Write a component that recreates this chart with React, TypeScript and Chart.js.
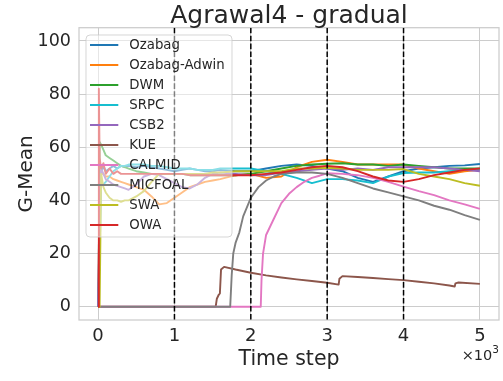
import React, { useEffect, useRef } from "react";
import { Chart, registerables } from "chart.js";

Chart.register(...registerables);

// Sampling positions shared by the seven ensemble series
const STEPS = [
  0, 10, 20, 40, 70, 100, 150, 200, 250, 300, 350, 400, 500, 600, 700, 800, 900, 1000,
  1100, 1200, 1300, 1400, 1500, 1600, 1800, 2000, 2200, 2400, 2600, 2800, 3000, 3200,
  3400, 3600, 3800, 4000, 4200, 4400, 4600, 4800, 5000,
];

const OZABAG = [
  0, 0, 30, 50, 53, 51, 52, 53, 52, 53, 52.5, 53, 52.5, 53, 52.5, 52, 51.5, 51, 51.5, 52,
  51.5, 51, 51, 51.5, 51, 51, 52, 53, 53.5, 53, 52, 51, 48.5, 47, 49, 51, 52, 52.5, 53,
  53.2, 53.7,
];
const OZABAG_ADWIN = [
  0, 0, 40, 50, 50, 49, 49, 48, 47.5, 47, 46.5, 46, 45, 44, 41.5, 38.5, 39, 41, 43, 45,
  46, 47, 47.5, 48, 49.5, 50, 48.5, 49, 52.5, 54.5, 55.3, 54.5, 53.5, 53.5, 53.5, 53.5,
  52, 51, 50, 51, 51.5,
];
const DWM = [
  0, 20, 62, 61, 59, 57, 56, 55, 54, 53, 52.5, 52, 51, 50.5, 50, 50, 50, 50, 50, 49.5,
  49.5, 49.5, 49.5, 49.5, 49.5, 50, 51, 52, 53, 53.5, 53.8, 54, 53.5, 53.5, 53, 53.5, 53,
  52.5, 52, 52, 52,
];
const SRPC = [
  0, 0, 20, 46, 46, 47, 49, 51, 52, 53, 53, 53.5, 53.5, 53.5, 53, 53, 52.5, 52, 52, 52,
  51.5, 51.5, 51.5, 52, 52, 52, 51, 50, 48.5, 46.5, 48, 48, 47.5, 46.5, 49, 50.3, 50.5,
  50.5, 51, 51.5, 51.5,
];
const CSB2 = [
  0, 0, 45, 52, 50, 48, 47, 46, 45.5, 45, 44.5, 44, 46, 49, 50, 49.5, 48, 46.5, 45, 44.5,
  46, 48.5, 50, 50.5, 50, 49.5, 49.5, 50.5, 51, 51.5, 52, 51.5, 52, 51.5, 52.5, 52.5,
  52.5, 52.5, 52, 51.5, 51,
];
const SWA = [
  0, 0, 0, 50, 45, 43, 41, 40, 40, 39.5, 40, 40, 41.5, 43.5, 47, 50, 50, 50, 50, 50, 50,
  50, 50.5, 50.5, 51, 51, 51, 51, 52, 52, 52.3, 52, 51.5, 51.5, 51.5, 51.8, 50, 49, 48,
  46.5, 45.5,
];
const OWA = [
  0, 82, 56, 52, 54, 50, 52, 50, 51, 50, 50, 50, 50, 50, 50, 50, 50, 50, 50, 49.5, 49.5,
  49.5, 49.5, 49.5, 49.5, 49.5, 50, 50.5, 51.5, 52.5, 53, 52.5, 51, 49, 47.5, 47, 48,
  49.5, 50.5, 51.5, 52,
];

// Series that stay at zero until they start learning
const KUE_STEPS = [
  0, 1540, 1555, 1580, 1595, 1610, 1650, 1800, 2000, 2200, 2400, 2600, 2800, 3000, 3150,
  3160, 3200, 3400, 3600, 3800, 4000, 4200, 4400, 4600, 4670, 4680, 4720, 5000,
];
const KUE = [
  0, 0, 3, 4.5, 5, 14, 15, 14, 12.8, 11.8, 11, 10.3, 9.7, 9, 8.3, 10.5, 11.5, 11.2, 10.8,
  10.4, 10, 9.4, 8.8, 8, 7.6, 8.8, 9.1, 8.6,
];
const CALMID_STEPS = [
  0, 2130, 2140, 2160, 2200, 2300, 2400, 2500, 2600, 2700, 2800, 2900, 3000, 3200, 3400,
  3600, 3800, 4000, 4200, 4400, 4600, 4800, 5000,
];
const CALMID = [
  0, 0, 10, 20, 27, 33, 39, 42.5, 45, 47, 48.5, 49.3, 50.2, 50, 49.5, 48.5, 47, 45.2,
  43.5, 42, 40, 38.5, 36.8,
];
const MICFOAL_STEPS = [
  0, 1730, 1750, 1770, 1800, 1850, 1900, 2000, 2100, 2200, 2300, 2400, 2600, 2800, 3000,
  3200, 3400, 3600, 3800, 4000, 4200, 4400, 4600, 4800, 5000,
];
const MICFOAL = [
  0, 0, 12, 20, 24, 28, 34, 41, 45, 47.5, 49, 50, 50.5, 50.5, 50, 48.5, 46.5, 44.5, 43,
  41.5, 40, 38, 36.5, 34.5, 32.7,
];

const SERIES_NAMES = [
  "Ozabag", "Ozabag-Adwin", "DWM", "SRPC", "CSB2", "KUE", "CALMID", "MICFOAL", "SWA", "OWA",
];
const SERIES_COLORS = [
  "#1f77b4", "#ff7f0e", "#2ca02c", "#17becf", "#9467bd",
  "#8c564b", "#e377c2", "#7f7f7f", "#bcbd22", "#d62728",
];
const SERIES_STEPS = [
  STEPS, STEPS, STEPS, STEPS, STEPS, KUE_STEPS, CALMID_STEPS, MICFOAL_STEPS, STEPS, STEPS,
];
const SERIES_VALUES = [
  OZABAG, OZABAG_ADWIN, DWM, SRPC, CSB2, KUE, CALMID, MICFOAL, SWA, OWA,
];

const DRIFT_STEPS = [1000, 2000, 3000, 4000];
const X_TICKS = [0, 1000, 2000, 3000, 4000, 5000];
const Y_TICKS = [0, 20, 40, 60, 80, 100];

const TITLE = "Agrawal4 - gradual";
const X_LABEL = "Time step";
const Y_LABEL = "G-Mean";

const FONT = "'DejaVu Sans', 'Liberation Sans', sans-serif";
const TEXT = "#262626";
const GRID = "#cccccc";

const decorations = {
  id: "decorations",
  beforeDatasetsDraw(chart: any) {
    const { ctx, chartArea: a } = chart;
    ctx.save();
    ctx.strokeStyle = GRID;
    ctx.lineWidth = 1.25;
    ctx.strokeRect(a.left, a.top, a.right - a.left, a.bottom - a.top);
    ctx.restore();
  },
  afterDatasetsDraw(chart: any) {
    const { ctx, chartArea: a, scales } = chart;
    ctx.save();
    ctx.beginPath();
    ctx.rect(a.left, a.top, a.right - a.left, a.bottom - a.top);
    ctx.clip();
    ctx.strokeStyle = "#000000";
    ctx.lineWidth = 1.5;
    ctx.setLineDash([5.55, 2.4]);
    for (const s of DRIFT_STEPS) {
      const px = scales.x.getPixelForValue(s);
      ctx.beginPath();
      ctx.moveTo(px, a.top);
      ctx.lineTo(px, a.bottom);
      ctx.stroke();
    }
    ctx.restore();
  },
  afterDraw(chart: any) {
    const { ctx, chartArea: a } = chart;
    const cx = (a.left + a.right) / 2;
    ctx.save();
    ctx.fillStyle = TEXT;

    // title
    ctx.font = `25px ${FONT}`;
    ctx.textAlign = "center";
    ctx.textBaseline = "alphabetic";
    ctx.fillText(TITLE, cx, 22.5);

    // x axis label
    ctx.font = `20.5px ${FONT}`;
    ctx.fillText(X_LABEL, cx, 365);

    // y axis label
    ctx.save();
    ctx.translate(31.5, (a.top + a.bottom) / 2);
    ctx.rotate(-Math.PI / 2);
    ctx.font = `20px ${FONT}`;
    ctx.fillText(Y_LABEL, 0, 0);
    ctx.restore();

    // axis multiplier
    ctx.textAlign = "left";
    ctx.font = `10.5px ${FONT}`;
    const supW = ctx.measureText("3").width;
    ctx.font = `14.5px ${FONT}`;
    const baseW = ctx.measureText("×10").width;
    const startX = a.right - baseW - supW;
    ctx.fillText("×10", startX, 359.5);
    ctx.font = `10.5px ${FONT}`;
    ctx.fillText("3", startX + baseW, 353);

    // legend
    const lx = 86, ly = 35, lw = 146, lh = 202;
    ctx.beginPath();
    ctx.roundRect(lx, ly, lw, lh, 4);
    ctx.fillStyle = "rgba(255,255,255,0.5)";
    ctx.fill();
    ctx.strokeStyle = "rgba(204,204,204,0.8)";
    ctx.lineWidth = 1;
    ctx.stroke();
    ctx.font = `13.3px ${FONT}`;
    ctx.textBaseline = "middle";
    SERIES_NAMES.forEach((name, i) => {
      const y = 45 + 20 * i;
      ctx.strokeStyle = SERIES_COLORS[i];
      ctx.lineWidth = 2;
      ctx.beginPath();
      ctx.moveTo(90, y);
      ctx.lineTo(118.3, y);
      ctx.stroke();
      ctx.fillStyle = TEXT;
      ctx.fillText(name, 129.3, y + 0.5);
    });
    ctx.restore();
  },
};

export default function App() {
  const canvasRef = useRef<HTMLCanvasElement | null>(null);

  useEffect(() => {
    const canvas = canvasRef.current;
    if (!canvas) return;
    const n = SERIES_NAMES.length;
    const datasets = SERIES_NAMES.map((name, i) => ({
      label: name,
      data: SERIES_STEPS[i].map((s, k) => ({ x: s, y: SERIES_VALUES[i][k] })),
      borderColor: SERIES_COLORS[i],
      backgroundColor: SERIES_COLORS[i],
      borderWidth: 1.9,
      pointRadius: 0,
      fill: false,
      tension: 0,
      order: n - 1 - i,
    }));

    const chart = new Chart(canvas, {
      type: "line",
      data: { datasets },
      options: {
        animation: false,
        responsive: false,
        devicePixelRatio: 1,
        layout: { padding: { top: 27.7, right: 4, left: 0, bottom: 0 } },
        plugins: {
          legend: { display: false },
          tooltip: { enabled: false },
          title: { display: false },
        },
        elements: {
          line: { borderJoinStyle: "round", borderCapStyle: "butt" },
          point: { radius: 0 },
        },
        scales: {
          x: {
            type: "linear",
            min: -250,
            max: 5250,
            afterBuildTicks: (s: any) => {
              s.ticks = X_TICKS.map((v) => ({ value: v }));
            },
            afterFit: (s: any) => {
              s.height = 61;
            },
            grid: { color: GRID, lineWidth: 1, drawTicks: false },
            border: { display: false },
            ticks: {
              autoSkip: false,
              maxRotation: 0,
              padding: 6,
              color: TEXT,
              font: { family: FONT, size: 18 },
              callback: (v: any) => String(Number(v) / 1000),
            },
          },
          y: {
            type: "linear",
            min: -5,
            max: 105,
            afterBuildTicks: (s: any) => {
              s.ticks = Y_TICKS.map((v) => ({ value: v }));
            },
            afterFit: (s: any) => {
              s.width = 79;
            },
            grid: { color: GRID, lineWidth: 1, drawTicks: false },
            border: { display: false },
            ticks: {
              autoSkip: false,
              padding: 8,
              color: TEXT,
              font: { family: FONT, size: 17.5 },
              callback: (v: any) => String(v),
            },
          },
        },
      },
      plugins: [decorations],
    });
    return () => chart.destroy();
  }, []);

  return (
    <div style={{ position: "absolute", left: 0, top: 0, width: 503, height: 381, background: "#ffffff" }}>
      <canvas ref={canvasRef} width={503} height={381} style={{ display: "block", width: 503, height: 381 }} />
    </div>
  );
}
